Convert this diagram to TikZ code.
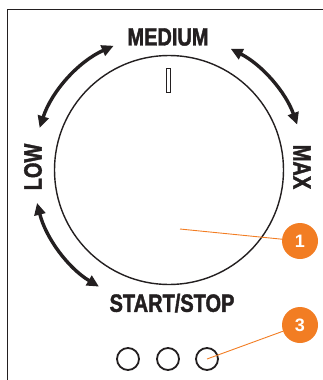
\documentclass[tikz,border=0pt]{standalone}
\usepackage{fontspec}
\setmainfont{Liberation Sans}
\newfontfamily\dialfont[FakeStretch=0.8,FakeBold=1.6]{Liberation Sans Bold}
\usetikzlibrary{arrows.meta}
\definecolor{inkc}{RGB}{35,31,32}
\definecolor{calloutc}{RGB}{242,125,35}

\begin{document}
\begin{tikzpicture}[x=1pt,y=-1pt,>={Triangle[length=12pt,width=11pt]},
  dial/.style={font=\dialfont\fontsize{25}{25}\selectfont,text=inkc,inner sep=0pt},
  sweep/.style={<->,line width=3.4pt,draw=inkc},
  callout/.style={circle,fill=calloutc,text=white,minimum size=36pt,inner sep=0pt,
    font=\bfseries\fontsize{18}{18}\selectfont},
  leader/.style={draw=calloutc,line width=0.9pt},
  lamp/.style={circle,draw=inkc,line width=1.8pt,minimum size=22pt,inner sep=0pt}]
\useasboundingbox (0,0) rectangle (323,380);

% --- panel edge
\draw[inkc,line width=1.5pt] (7.5,380) -- (7.5,9.3) -- (323,9.3);

% --- knob
\node[circle,draw=inkc,line width=1.4pt,minimum size=229pt,inner sep=0pt] (knob) at (169,170) {};
\node[draw=inkc,line width=0.8pt,minimum width=4pt,minimum height=24pt,inner sep=0pt] (mark) at (168.5,80) {};

% --- settings
\node[dial] (medium) at (168,37) {MEDIUM};
\node[dial,rotate=90] (low) at (33,167) {LOW};
\node[dial,rotate=-90] (max) at (302,167) {MAX};
\node[dial] (startstop) at (172,303) {START/STOP};

% --- turning arrows
\draw[sweep] ([shift={(-162:136)}]knob.center) arc[start angle=-162,end angle=-114,radius=136];
\draw[sweep] ([shift={(-63:136)}]knob.center) arc[start angle=-63,end angle=-19.5,radius=136];
\draw[sweep] ([shift={(-194:136)}]knob.center) arc[start angle=-194,end angle=-239,radius=136];

% --- indicator lamps
\foreach \x/\n in {128/a,168/b,207/c}{
  \node[lamp] (lamp\n) at (\x,359) {};}

% --- callouts
\node[callout] (one) at (300,241) {1};
\node[callout] (three) at (300,325) {3};
\coordinate (knobpt) at (180,229);
\draw[leader] (knobpt) -- (one);
\draw[leader] (lampc.center) -- (three);
\end{tikzpicture}
\end{document}
